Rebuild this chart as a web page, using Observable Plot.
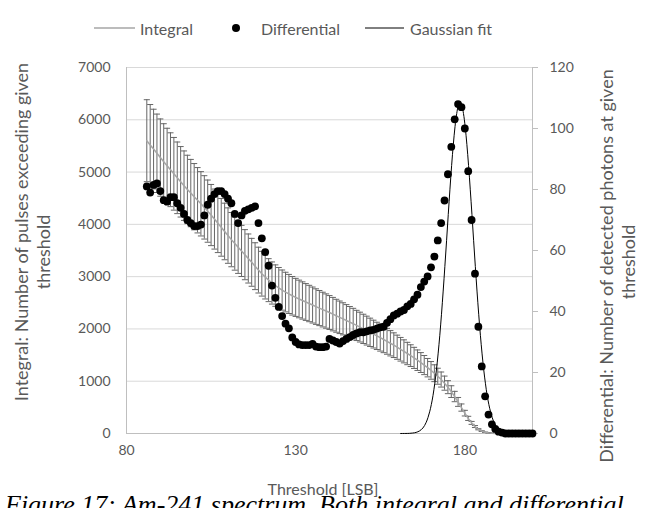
<!DOCTYPE html>
<html>
<head>
<meta charset="utf-8">
<script src="https://cdn.jsdelivr.net/npm/d3@7"></script>
<script src="https://cdn.jsdelivr.net/npm/@observablehq/plot@0.6"></script>
<style>
  html, body { margin: 0; padding: 0; background: #fff; overflow: hidden; }
  #chart { position: relative; width: 646px; height: 508px; overflow: hidden; }
  #chart svg { position: absolute; left: 0; top: 0; }
  .caption {
    position: absolute; left: 5px; top: 490px; white-space: nowrap;
    font-family: "Liberation Serif", "DejaVu Serif", serif; font-style: italic;
    font-size: 26px; color: #000;
  }
</style>
</head>
<body>
<div id="chart"></div>
<script>
// Am-241 threshold scan: integral counts (with error bars), differential counts, Gaussian fit

// Threshold values [LSB]
const integralThresholds = d3.range(86, 193);      // 86 … 192
const differentialThresholds = d3.range(86, 201);  // 86 … 200

// Integral: number of pulses exceeding the threshold
const integralCounts = [
  5600, 5519, 5440, 5359, 5277, 5197, 5121, 5045, 4967, 4890,
  4814, 4740, 4668, 4598, 4529, 4461, 4393, 4325, 4253, 4178,
  4101, 4023, 3943, 3864, 3785, 3708, 3633, 3561, 3492, 3420,
  3347, 3274, 3200, 3125, 3056, 2992, 2933, 2878, 2829, 2785,
  2743, 2705, 2669, 2634, 2603, 2573, 2544, 2515, 2486, 2457,
  2427, 2399, 2370, 2342, 2314, 2283, 2252, 2222, 2193, 2162,
  2131, 2100, 2067, 2035, 2001, 1968, 1935, 1901, 1867, 1833,
  1798, 1763, 1726, 1689, 1650, 1611, 1571, 1530, 1489, 1446,
  1402, 1357, 1309, 1259, 1207, 1153, 1095, 1032, 963, 886,
  801, 707, 604, 496, 389, 289, 203, 133, 81, 46,
  24, 12, 5, 2, 1, 0, 0
];

// Integral: error (±) on each count
const integralErrors = [
  784, 773, 762, 750, 739, 728, 717, 706, 695, 685,
  674, 664, 654, 644, 634, 625, 615, 606, 595, 585,
  574, 563, 552, 541, 530, 519, 509, 499, 489, 479,
  469, 458, 448, 438, 428, 419, 411, 403, 396, 390,
  384, 379, 374, 369, 364, 360, 356, 352, 348, 344,
  340, 336, 332, 328, 324, 320, 315, 311, 307, 303,
  298, 294, 289, 285, 280, 276, 271, 266, 261, 257,
  252, 247, 242, 236, 231, 226, 220, 214, 208, 202,
  196, 190, 183, 176, 169, 161, 153, 144, 135, 124,
  112, 99, 85, 69, 54, 40, 28, 19, 11, 6,
  3, 2, 1, 0, 0, 0, 0
];

// Differential: number of detected photons at each threshold
const differentialCounts = [
  81, 79, 81.5, 82, 79.5, 76.5, 76, 77.5, 77.5, 75.5,
  74, 72, 70, 69, 68, 68, 68.5, 71.5, 75, 77,
  78.5, 79.5, 79.5, 78.5, 77, 75.5, 72, 69, 71.5, 73,
  73.5, 74, 74.5, 69, 64, 59.5, 55, 48.5, 44.5, 41.5,
  38.5, 36, 34.5, 31.5, 30, 29.2, 29, 29, 29, 29.4,
  28.5, 28.3, 28.3, 28.5, 31, 30.5, 30, 29.5, 30.3, 31,
  31.6, 32.3, 32.8, 33.2, 33.2, 33.5, 33.8, 34, 34.4, 34.8,
  35, 36.3, 37.5, 38.7, 39.3, 40, 40.5, 41.7, 42.5, 44,
  45.5, 48, 49.8, 51.5, 54.5, 58, 63.3, 69, 76.4, 85,
  94, 103, 108, 107, 100, 86, 70, 52.4, 35, 22,
  12.2, 6.2, 3, 1.5, 0.6, 0.3, 0, 0, 0, 0,
  0, 0, 0, 0, 0
];

// Gaussian fit to the photopeak
const fitThresholds = [
  161.0, 162.6, 163.6, 164.6, 165.6, 166.6, 167.1, 167.6, 168.1, 168.6,
  169.1, 169.6, 170.1, 170.6, 171.1, 171.6, 172.1, 172.6, 173.1, 173.6,
  174.1, 174.6, 175.1, 175.6, 176.1, 176.6, 177.1, 177.6, 178.1, 178.6,
  179.1, 179.6, 180.1, 180.6, 181.1, 181.6, 182.1, 182.6, 183.1, 183.6,
  184.1, 184.6, 185.1, 185.6, 186.1, 186.6, 187.1, 187.6, 188.1, 188.6,
  189.1, 189.6, 190.1, 190.6, 191.6, 192.6, 193.6, 194.6, 195.6
];
const fitCounts = [
  0, 0.02, 0.05, 0.15, 0.36, 0.84, 1.25, 1.8, 2.6, 3.7,
  5.2, 7.1, 9.5, 12.5, 16.3, 20.8, 26.1, 32.2, 39.1, 46.7,
  54.8, 63.2, 71.8, 80.1, 87.9, 94.8, 100.6, 104.9, 107.6, 108.5,
  107.6, 104.9, 100.6, 94.8, 87.9, 80.1, 71.8, 63.2, 54.8, 46.7,
  39.1, 32.2, 26.1, 20.8, 16.3, 12.5, 9.5, 7.1, 5.2, 3.7,
  2.6, 1.8, 1.25, 0.84, 0.36, 0.15, 0.05, 0.02, 0
];

// Axis ticks
const xTicks = [80, 130, 180];
const leftTicks = [0, 1000, 2000, 3000, 4000, 5000, 6000, 7000];
const rightTicks = [0, 20, 40, 60, 80, 100, 120];

// Differential values are drawn against the secondary (right) axis: 0–120 ↔ 0–7000
const LEFT_MAX = 7000, RIGHT_MAX = 120;
const toLeft = v => v * LEFT_MAX / RIGHT_MAX;

const integral = integralThresholds.map((t, i) => ({t, v: integralCounts[i], e: integralErrors[i]}));
const differential = differentialThresholds.map((t, i) => ({t, v: differentialCounts[i]}));
const fit = fitThresholds.map((t, i) => ({t, v: fitCounts[i]}));

const FONT = "Lato, 'Open Sans', sans-serif";
const INK = "#595959";
const BAR = "#666";
const CAP = 0.9; // half-width of error-bar caps, in LSB

const chart = Plot.plot({
  width: 646,
  height: 508,
  marginTop: 67,
  marginBottom: 75,
  marginLeft: 126,
  marginRight: 114,
  style: {fontFamily: FONT, fontSize: "14px", color: INK, background: "#fff"},
  x: {domain: [80, 200]},
  y: {domain: [0, 7000]},
  marks: [
    Plot.gridY(leftTicks.filter(v => v > 0), {stroke: "#d9d9d9", strokeOpacity: 1}),
    Plot.ruleY([0], {stroke: "#bfbfbf"}),
    Plot.ruleX([80], {stroke: "#bfbfbf"}),
    Plot.ruleX([200], {stroke: "#bfbfbf"}),
    Plot.axisY(leftTicks, {anchor: "left", tickSize: 0, tickPadding: 16, label: null, tickFormat: d => String(d)}),
    Plot.axisY(rightTicks.map(toLeft), {
      anchor: "right", tickSize: 5, tickPadding: 12, label: null, stroke: "#bfbfbf",
      tickFormat: v => String(Math.round(v * RIGHT_MAX / LEFT_MAX))
    }),
    Plot.axisX(xTicks, {anchor: "bottom", tickSize: 0, tickPadding: 12, label: null, tickFormat: d => String(d)}),

    // Integral with error bars
    Plot.ruleX(integral, {x: "t", y1: d => d.v - d.e, y2: d => d.v + d.e, stroke: BAR, strokeWidth: 1}),
    Plot.link(integral, {x1: d => d.t - CAP, x2: d => d.t + CAP, y1: d => d.v + d.e, y2: d => d.v + d.e, stroke: BAR}),
    Plot.link(integral, {x1: d => d.t - CAP, x2: d => d.t + CAP, y1: d => d.v - d.e, y2: d => d.v - d.e, stroke: BAR}),
    Plot.line(integral, {x: "t", y: "v", stroke: "#a6a6a6", strokeWidth: 1.5}),

    // Differential points
    Plot.dot(differential, {x: "t", y: d => toLeft(d.v), r: 3.9, fill: "#000", stroke: "none"}),

    // Gaussian fit
    Plot.line(fit, {x: "t", y: d => toLeft(d.v), stroke: "#000", strokeWidth: 1, curve: "catmull-rom"})
  ]
});

const host = document.getElementById("chart");
host.appendChild(chart);

// Titles and legend
const svg = d3.select(chart);
const label = (x, y, text, opts = {}) => svg.append("text")
  .attr("transform", `translate(${x},${y}) rotate(${opts.rotate || 0})`)
  .attr("text-anchor", opts.anchor || "middle")
  .attr("dominant-baseline", "central")
  .attr("fill", INK)
  .style("font-family", FONT)
  .style("font-size", (opts.size || 16) + "px")
  .text(text);

label(323, 488, "Threshold [LSB]");
label(21, 232, "Integral: Number of pulses exceeding given", {rotate: -90, size: 18});
label(43, 252, "threshold", {rotate: -90, size: 18});
label(606, 266, "Differential: Number of detected photons at given", {rotate: -90, size: 18});
label(628, 262, "threshold", {rotate: -90, size: 18});

const legend = svg.append("g");
legend.append("line").attr("x1", 94).attr("x2", 135).attr("y1", 28).attr("y2", 28)
  .attr("stroke", "#a6a6a6").attr("stroke-width", 1.5);
label(140, 28, "Integral", {anchor: "start", size: 16});
legend.append("circle").attr("cx", 236).attr("cy", 28).attr("r", 4).attr("fill", "#000");
label(261, 28, "Differential", {anchor: "start", size: 16});
legend.append("line").attr("x1", 365).attr("x2", 404).attr("y1", 28).attr("y2", 28)
  .attr("stroke", "#000").attr("stroke-width", 1);
label(410, 28, "Gaussian fit", {anchor: "start", size: 16});

const cap = document.createElement("div");
cap.className = "caption";
cap.textContent = "Figure 17: Am-241 spectrum. Both integral and differential";
host.appendChild(cap);
</script>
</body>
</html>
